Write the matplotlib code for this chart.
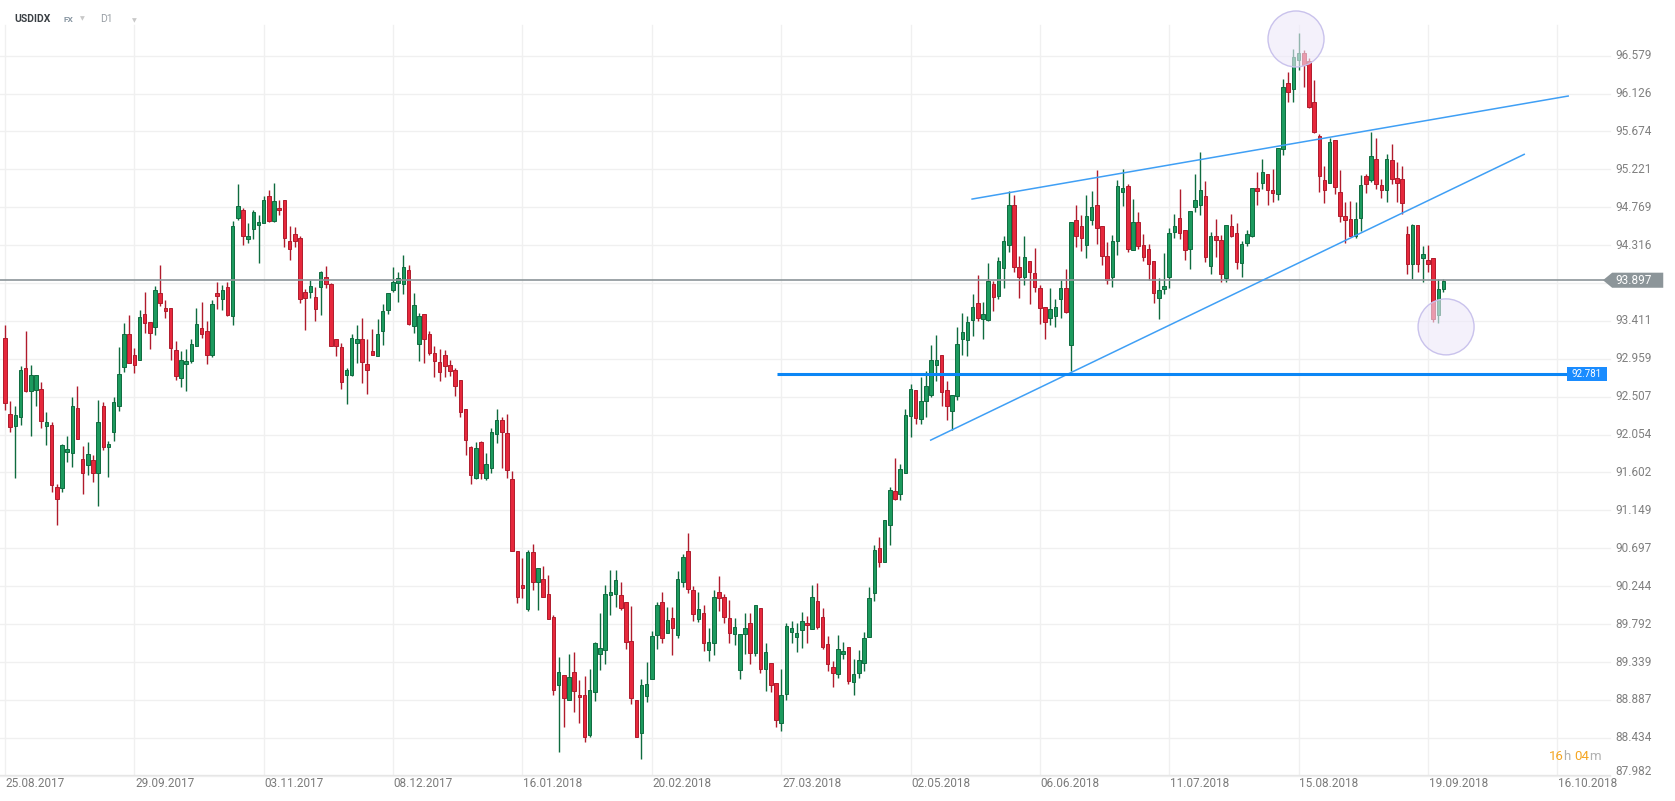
import matplotlib
matplotlib.use("Agg")
import matplotlib.pyplot as plt
from matplotlib.patches import Ellipse, Polygon, Rectangle

# daily candles USDIDX, 25.08.2017 -> 21.09.2018 (bar index = trading day)
opens = [93.21, 92.30, 92.16, 92.27, 92.85, 92.58, 92.59, 92.60, 92.16, 92.17,
         91.43, 91.42, 91.85, 91.84, 92.37, 91.76, 91.69, 91.75, 91.59, 92.39,
         91.91, 92.08, 92.39, 92.86, 93.25, 93.00, 92.95, 93.49, 93.40, 93.34,
         93.74, 93.56, 93.56, 93.06, 92.73, 92.90, 92.93, 93.11, 93.33, 93.29,
         93.01, 93.75, 93.67, 93.82,
         93.47, 94.64, 94.73, 94.39, 94.51, 94.56, 94.58, 94.90, 94.60, 94.76,
         94.85, 94.36, 94.45, 94.40, 93.76, 93.76, 93.70, 93.82, 93.94, 93.85,
         93.19, 93.10, 92.77, 92.76, 93.15, 93.19, 92.90, 93.05, 92.99, 93.29,
         93.54, 93.78, 93.86, 93.85, 94.02, 93.35, 93.13, 93.49, 93.25, 93.03,
         92.92, 93.00, 92.89,
         92.83, 92.70, 92.36, 91.90, 91.54, 91.97, 91.53, 91.65, 92.06, 92.23,
         92.07, 91.52, 90.66, 90.26, 89.97, 90.65, 90.30, 90.33, 90.15, 89.88,
         89.07, 89.18, 88.89, 89.22, 88.95, 88.94, 88.47, 88.98, 89.44, 89.48,
         90.14, 90.15, 90.14, 90.06, 89.59, 88.89, 88.49, 88.93, 89.14, 89.66,
         90.05, 89.69, 89.87, 89.66, 90.29, 90.66, 90.20, 89.85, 89.92, 89.48,
         89.57, 90.17, 90.11, 89.86, 89.67, 89.24, 89.67, 89.80, 89.45, 89.98,
         89.25, 89.33, 89.09, 88.61, 88.96, 89.70, 89.64, 89.72, 89.80, 89.73,
         90.07, 89.88, 89.55, 89.28, 89.19, 89.44, 89.52, 89.10, 89.21, 89.33,
         89.64, 90.16, 90.70,
         90.53, 90.98, 91.38, 91.35, 91.60, 92.28, 92.59, 92.24, 92.46, 92.53,
         92.89, 93.00, 92.59, 92.34, 92.51, 93.20, 93.18, 93.42, 93.62, 93.44,
         93.42, 93.85, 93.71, 94.04, 94.32, 94.79, 94.05, 93.94, 94.13, 93.98,
         93.80, 93.58, 93.45, 93.47, 93.67, 93.81, 93.12, 94.61, 94.54, 94.32,
         94.62, 94.79, 94.54, 94.19,
         93.93, 94.36, 94.95, 95.02, 94.26, 94.59, 94.32, 94.27, 94.13, 93.69,
         93.79, 93.94, 94.47, 94.64, 94.50, 94.27, 94.77, 94.80, 94.90, 94.07,
         94.42, 94.38, 93.92, 94.54, 94.46, 94.10, 94.34, 94.42, 95.00, 95.06,
         95.16, 94.98, 94.93,
         95.46, 96.25, 96.18, 96.53, 96.61, 96.51,
         96.02, 95.62, 95.09, 95.06, 95.57, 94.95, 94.66, 94.63, 94.42, 94.64,
         95.14, 95.09, 95.34, 95.03, 94.98, 95.33, 95.12, 95.10, 94.45, 94.09,
         94.56, 94.16, 94.14, 94.16, 93.48, 93.79]

highs = [93.36, 92.46, 92.39, 92.87, 93.29, 92.88, 92.76, 92.68, 92.32, 92.20,
         91.46, 91.94, 92.04, 92.50, 92.64, 91.92, 91.97, 91.81, 92.47, 92.44,
         91.98, 92.50, 93.10, 93.39, 93.48, 93.09, 93.54, 93.76, 93.40, 93.83,
         94.08, 93.66, 93.56, 93.17, 93.05, 93.07, 93.19, 93.57, 93.64, 93.41,
         93.66, 93.88, 93.84, 93.88,
         94.60, 95.05, 94.76, 94.58, 94.74, 94.68, 94.90, 94.98, 95.06, 94.85,
         94.85, 94.54, 94.53, 94.43, 93.79, 93.90, 93.82, 94.01, 94.07, 93.86,
         93.19, 93.15, 92.85, 93.25, 93.36, 93.45, 93.19, 93.32, 93.43, 93.61,
         93.75, 94.06, 93.99, 94.20, 94.08, 93.74, 93.50, 93.49, 93.29, 93.11,
         93.08, 93.06, 92.95,
         92.85, 92.70, 92.36, 91.92, 91.96, 91.98, 91.83, 92.13, 92.36, 92.27,
         92.30, 91.62, 90.66, 90.58, 90.68, 90.75, 90.46, 90.49, 90.38, 89.90,
         89.40, 89.18, 89.43, 89.46, 89.13, 89.17, 89.26, 89.58, 89.92, 90.26,
         90.44, 90.44, 90.30, 90.06, 90.01, 88.89, 89.14, 89.34, 89.71, 90.05,
         90.17, 89.99, 89.99, 90.43, 90.63, 90.88, 90.25, 90.18, 90.02, 89.74,
         90.20, 90.36, 90.15, 90.08, 89.87, 89.67, 89.93, 89.92, 90.02, 89.98,
         89.57, 89.33, 89.09, 89.25, 89.80, 89.83, 89.80, 89.94, 89.89, 90.26,
         90.28, 89.98, 89.65, 89.35, 89.66, 89.58, 89.52, 89.38, 89.48, 89.70,
         90.23, 90.73, 90.83,
         91.03, 91.43, 91.77, 91.70, 92.36, 92.66, 92.59, 92.74, 92.81, 93.12,
         93.24, 93.01, 92.69, 92.53, 93.34, 93.51, 93.47, 93.73, 93.96, 93.64,
         94.10, 93.89, 94.18, 94.42, 94.96, 94.91, 94.19, 94.42, 94.13, 94.28,
         93.84, 93.58, 93.80, 93.67, 93.90, 94.03, 94.59, 94.80, 94.68, 94.92,
         94.96, 95.21, 94.54, 94.35,
         94.44, 95.09, 95.23, 95.04, 94.87, 94.71, 94.45, 94.33, 94.13, 93.92,
         94.22, 94.52, 94.69, 94.99, 94.50, 94.72, 95.16, 95.43, 95.08, 94.47,
         94.63, 94.44, 94.56, 94.69, 94.58, 94.36, 94.50, 95.00, 95.19, 95.34,
         95.16, 95.23, 95.48,
         96.30, 96.38, 96.66, 96.85, 96.65, 96.55,
         96.29, 95.64, 95.26, 95.60, 95.57, 95.21, 94.83, 94.84, 94.83, 95.15,
         95.17, 95.67, 95.60, 95.11, 95.40, 95.52, 95.31, 95.26, 94.54, 94.57,
         94.56, 94.31, 94.32, 94.16, 93.91, 93.91]

lows = [92.35, 92.09, 91.53, 92.17, 92.56, 92.04, 92.39, 92.13, 91.93, 91.37,
        90.97, 91.37, 91.73, 91.67, 92.00, 91.34, 91.57, 91.49, 91.20, 91.87,
        91.55, 91.98, 92.33, 92.80, 92.91, 92.79, 92.95, 93.27, 93.07, 93.24,
        93.59, 93.45, 92.94, 92.70, 92.62, 92.57, 92.91, 93.11, 93.21, 92.90,
        92.98, 93.55, 93.54, 93.47,
        93.36, 94.62, 94.32, 94.34, 94.39, 94.10, 94.58, 94.59, 94.59, 94.67,
        94.29, 94.14, 94.29, 93.62, 93.30, 93.69, 93.41, 93.48, 93.80, 93.11,
        92.99, 92.60, 92.42, 92.75, 92.91, 92.67, 92.54, 93.01, 92.99, 93.12,
        93.49, 93.76, 93.64, 93.73, 93.36, 93.27, 92.93, 92.91, 93.01, 92.74,
        92.69, 92.74, 92.75,
        92.52, 92.27, 91.81, 91.47, 91.52, 91.52, 91.51, 91.60, 91.95, 91.65,
        91.53, 90.67, 90.04, 90.10, 89.95, 90.20, 89.96, 90.12, 89.85, 88.95,
        88.26, 88.56, 88.89, 88.74, 88.61, 88.38, 88.44, 88.87, 89.24, 89.32,
        89.90, 90.00, 89.96, 89.49, 88.84, 88.44, 88.18, 88.86, 89.14, 89.49,
        89.56, 89.68, 89.42, 89.62, 90.24, 90.16, 89.83, 89.82, 89.47, 89.35,
        89.42, 89.95, 89.81, 89.56, 89.54, 89.14, 89.44, 89.31, 89.41, 89.21,
        88.99, 88.98, 88.56, 88.52, 88.89, 89.57, 89.46, 89.51, 89.56, 89.73,
        89.73, 89.50, 89.23, 89.04, 89.15, 89.37, 89.08, 88.94, 89.15, 89.23,
        89.64, 90.07, 90.47,
        90.53, 90.73, 91.27, 91.27, 91.60, 92.02, 92.18, 92.18, 92.27, 92.50,
        92.69, 92.39, 92.23, 92.11, 92.47, 93.00, 92.99, 93.23, 93.41, 93.19,
        93.41, 93.53, 93.67, 93.80, 94.23, 93.99, 93.69, 93.84, 93.61, 93.76,
        93.37, 93.19, 93.36, 93.34, 93.45, 93.51, 92.81, 94.29, 94.25, 94.16,
        94.56, 94.33, 94.08, 93.85,
        93.82, 94.20, 94.78, 94.23, 94.26, 94.27, 94.13, 93.90, 93.62, 93.44,
        93.73, 93.81, 94.40, 94.39, 94.14, 94.03, 94.71, 94.67, 94.12, 93.97,
        94.17, 93.88, 93.87, 94.41, 94.03, 93.94, 94.30, 94.41, 94.79, 94.99,
        94.80, 94.83, 94.86,
        95.39, 96.02, 96.02, 96.41, 96.20, 95.95,
        95.65, 94.95, 94.82, 95.06, 94.93, 94.59, 94.34, 94.42, 94.40, 94.48,
        94.94, 95.07, 94.99, 94.88, 94.83, 95.05, 94.83, 94.69, 93.97, 93.91,
        94.00, 93.87, 94.00, 93.40, 93.39, 93.76]

closes = [92.43, 92.14, 92.29, 92.82, 92.57, 92.77, 92.76, 92.22, 92.20, 91.45,
          91.29, 91.93, 91.88, 92.40, 92.00, 91.59, 91.82, 91.60, 92.20, 91.91,
          91.94, 92.44, 92.78, 93.25, 92.91, 92.89, 93.46, 93.39, 93.27, 93.78,
          93.63, 93.53, 93.09, 92.75, 92.95, 92.93, 93.14, 93.37, 93.26, 93.00,
          93.61, 93.71, 93.78, 93.48,
          94.54, 94.78, 94.43, 94.42, 94.71, 94.59, 94.85, 94.60, 94.84, 94.73,
          94.40, 94.27, 94.37, 93.67, 93.69, 93.83, 93.55, 93.99, 93.85, 93.11,
          93.11, 92.68, 92.83, 93.21, 93.20, 92.92, 92.83, 93.01, 93.26, 93.53,
          93.75, 93.87, 93.92, 94.05, 93.37, 93.60, 93.47, 93.20, 93.03, 92.93,
          92.80, 92.87, 92.81,
          92.63, 92.32, 91.99, 91.57, 91.89, 91.59, 91.70, 92.09, 92.23, 92.08,
          91.63, 90.67, 90.11, 90.22, 90.65, 90.29, 90.46, 90.12, 89.85, 89.01,
          89.22, 88.91, 89.16, 88.99, 88.92, 88.44, 89.01, 89.56, 89.51, 90.15,
          90.17, 90.32, 89.98, 89.58, 88.91, 88.44, 89.07, 89.08, 89.65, 90.02,
          89.63, 89.84, 89.75, 90.33, 90.59, 90.21, 89.91, 89.97, 89.56, 89.58,
          90.11, 90.10, 89.88, 89.68, 89.76, 89.67, 89.74, 89.45, 90.02, 89.26,
          89.46, 89.07, 88.65, 88.94, 89.77, 89.74, 89.69, 89.83, 89.78, 90.12,
          89.76, 89.52, 89.31, 89.21, 89.49, 89.47, 89.11, 89.19, 89.36, 89.62,
          90.10, 90.68, 90.53,
          91.03, 91.39, 91.28, 91.64, 92.29, 92.60, 92.25, 92.46, 92.63, 92.94,
          92.95, 92.56, 92.39, 92.53, 93.13, 93.28, 93.40, 93.58, 93.45, 93.49,
          93.89, 93.70, 94.13, 94.36, 94.79, 94.05, 93.93, 94.18, 94.00, 93.82,
          93.57, 93.40, 93.55, 93.58, 93.81, 93.52, 94.59, 94.42, 94.40, 94.66,
          94.77, 94.52, 94.19, 93.90,
          94.36, 95.02, 95.00, 94.27, 94.59, 94.30, 94.18, 94.09, 93.75, 93.78,
          93.83, 94.46, 94.55, 94.46, 94.26, 94.72, 94.85, 94.98, 94.18, 94.42,
          94.38, 93.97, 94.56, 94.43, 94.12, 94.33, 94.45, 95.00, 94.96, 95.19,
          94.98, 94.94, 95.48,
          96.20, 96.15, 96.56, 96.61, 96.47, 95.97,
          95.67, 95.14, 94.98, 95.55, 95.01, 94.66, 94.62, 94.42, 94.63, 95.03,
          95.05, 95.38, 95.05, 94.98, 95.34, 95.11, 95.06, 94.82, 94.09, 94.56,
          94.09, 94.21, 94.09, 93.44, 93.79, 93.89]

date_labels = ["25.08.2017", "29.09.2017", "03.11.2017", "08.12.2017", "16.01.2018",
               "20.02.2018", "27.03.2018", "02.05.2018", "06.06.2018", "11.07.2018",
               "15.08.2018", "19.09.2018", "16.10.2018"]
date_bars = [0, 25, 50, 75, 100, 125, 150, 175, 200, 225, 250, 275, 300]

price_ticks = [96.579, 96.126, 95.674, 95.221, 94.769, 94.316, 93.864, 93.411, 92.959,
               92.507, 92.054, 91.602, 91.149, 90.697, 90.244, 89.792, 89.339, 88.887,
               88.434, 87.982]
price_labels = ["96.579", "96.126", "95.674", "95.221", "94.769", "94.316", "", "93.411",
                "92.959", "92.507", "92.054", "91.602", "91.149", "90.697", "90.244",
                "89.792", "89.339", "88.887", "88.434", "87.982"]

last_price = 93.897
level_price = 92.781
level_start = 149.1
upper_line = ([186.9, 302.1], [94.866, 96.096])
lower_line = ([178.9, 293.6], [91.988, 95.40])
circles = [(249.5, 96.777), (278.5, 93.34)]

W, H = 1675, 801
fig = plt.figure(figsize=(W / 100, H / 100), dpi=100)
fig.patch.set_facecolor("white")
# axes box in pixels: x 0..1607, y 25..775
ax = fig.add_axes([0, 26 / H, 1607 / W, 750 / H])
ax.set_facecolor("white")
ax.set_xlim(-0.966, 309.6)
ax.set_ylim(87.990, 96.944)
for s in ax.spines.values():
    s.set_visible(False)
ax.set_xticks([])
ax.set_yticks([])

grid_c = "#f0f0f0"
ytr = ax.get_yaxis_transform()
xtr = ax.get_xaxis_transform()
for p in price_ticks:
    ax.plot([0, 1.002], [p, p], transform=ytr, color=grid_c, lw=1, zorder=0, clip_on=False)
for b in date_bars:
    ax.plot([b, b], [0, 1], transform=xtr, color=grid_c, lw=1, zorder=0, clip_on=False)
ax.plot([0, 1.002], [87.99, 87.99], transform=ytr, color="#e6e6e6", lw=1, zorder=0, clip_on=False)

# candles
up_fill, up_edge = "#1c9a5e", "#0f6b3f"
dn_fill, dn_edge = "#e6283c", "#b01b2c"
xs = list(range(len(opens)))
fills, edges, bottoms, heights = [], [], [], []
for o, c in zip(opens, closes):
    if c >= o:
        fills.append(up_fill)
        edges.append(up_edge)
    else:
        fills.append(dn_fill)
        edges.append(dn_edge)
    bottoms.append(min(o, c))
    heights.append(max(abs(c - o), 0.015))
ax.vlines(xs, lows, highs, colors=edges, linewidth=1.0, zorder=2)
ax.bar(xs, heights, bottom=bottoms, width=0.68, color=fills, edgecolor=edges,
       linewidth=0.7, zorder=3)

# current price line
ax.axhline(last_price, color="#8c9599", lw=1.2, zorder=4)

# drawn lines
ax.plot(upper_line[0], upper_line[1], color="#3f9ff5", lw=1.1, zorder=5)
ax.plot(lower_line[0], lower_line[1], color="#3f9ff5", lw=1.1, zorder=5)
ax.plot([level_start, 309.6], [level_price, level_price], color="#0b86f5", lw=2.2,
        zorder=5, solid_capstyle="butt")

# circles (28 px radius)
for cx, cy in circles:
    ax.add_patch(Ellipse((cx, cy), 2 * 28 / 5.174, 2 * 28 / 83.76,
                         facecolor=(0.93, 0.91, 0.975, 0.6), edgecolor="#c9c2ec",
                         lw=1.0, zorder=6, clip_on=False))

# right axis labels
for p, lab in zip(price_ticks, price_labels):
    if not lab:
        continue
    yy = p + 0.05 if p < 88 else p
    ax.text(1.005, yy, lab, transform=ytr, ha="left", va="center", fontsize=8.5,
            color="#808080", family="Roboto", clip_on=False)

# last price tag
tag_h = 0.09
ax.add_patch(Polygon([(0.9975, last_price), (1.0032, last_price + tag_h), (1.035, last_price + tag_h),
                      (1.035, last_price - tag_h), (1.0032, last_price - tag_h)],
                     closed=True, transform=ytr, facecolor="#8c9599", edgecolor="none",
                     zorder=7, clip_on=False))
ax.text(1.005, last_price, "93.897", transform=ytr, ha="left", va="center", fontsize=8.5,
        color="white", family="Roboto", zorder=8, clip_on=False)

# level tag
ax.add_patch(Rectangle((0.975, level_price - 0.085), 0.025, 0.17, transform=ytr,
                       facecolor="#1a8cff", edgecolor="none", zorder=7, clip_on=False))
ax.text(0.9875, level_price, "92.781", transform=ytr, ha="center", va="center", fontsize=7,
        color="white", family="Roboto", zorder=8, clip_on=False)

# date labels
for b, lab in zip(date_bars, date_labels):
    ax.text(b + 0.15, -0.0107, lab, transform=xtr, ha="left", va="center", fontsize=8.5,
            color="#7a7a7a", family="Roboto", clip_on=False)

# countdown "16h 04m", pieces laid out left to right
renderer = fig.canvas.get_renderer()
x_px = 1549
for part, col in [("16", "#f5a623"), ("h ", "#b0b0b0"), ("04", "#f5a623"), ("m", "#b0b0b0")]:
    t = fig.text(x_px / W, 1 - 756 / H, part, color=col, fontsize=9.5, family="Roboto",
                 va="center", ha="left")
    x_px += t.get_window_extent(renderer).width

# header
fig.text(14 / W, 1 - 19 / H, "USDIDX", color="#3a3f44", fontsize=7.5, fontweight="bold",
         family="Roboto", va="center")
fig.text(63 / W, 1 - 19.5 / H, "FX", color="#8795a1", fontsize=6, fontweight="bold",
         family="Roboto", va="center")
fig.text(100 / W, 1 - 19 / H, "D1", color="#9aa0a6", fontsize=7.5, family="Roboto", va="center")
fig.text(80 / W, 1 - 19 / H, "\u25bc", color="#c8c8c8", fontsize=4.5, va="center")
fig.text(132 / W, 1 - 21 / H, "\u25bc", color="#c8c8c8", fontsize=4.5, va="center")

fig.savefig("out.png", dpi=100, facecolor="white")
